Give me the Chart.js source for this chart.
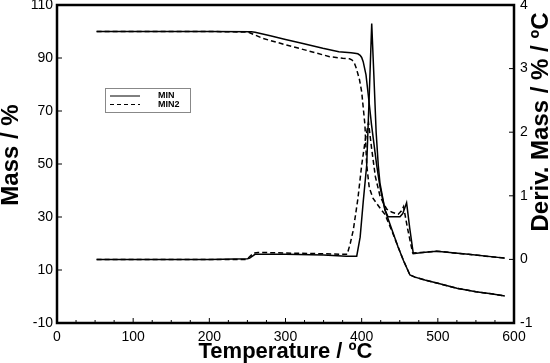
<!DOCTYPE html>
<html>
<head>
<meta charset="utf-8">
<script src="https://cdn.jsdelivr.net/npm/chart.js@4"></script>
<style>
  html, body { margin: 0; padding: 0; background: #fff; }
  canvas { display: block; }
</style>
</head>
<body>
<canvas id="tga" width="550" height="363"></canvas>
<script>
// ─── DATA ───
const seriesNames = ['MIN', 'MIN2'];

// MIN : mass (%) vs temperature (°C)
const minMassT = [52, 100, 150, 200, 255, 260, 280, 300, 320, 349, 370, 386, 391, 395, 398, 400, 402, 405.7, 408.7, 413, 419.7, 424, 430.6, 440, 447.7, 455, 463.4, 470, 483, 500, 525, 550, 570, 588];
const minMass  = [100, 100, 100, 100, 99.9, 99.7, 98.4, 97.0, 95.7, 93.7, 92.4, 92.0, 91.8, 91.6, 91.0, 90.2, 88.6, 83.6, 76, 64.7, 49.6, 41.5, 32.6, 25, 18.8, 13.5, 8.1, 7.3, 6.2, 5.0, 3.1, 1.8, 1.0, 0.2];

// MIN2 : mass (%)
const min2MassT = [52, 100, 150, 200, 251, 270, 300, 330, 358, 375, 384, 387, 390, 393, 397, 400, 404.3, 406.6, 410, 415, 420, 425, 430.6, 440, 447.7, 455, 463.4, 470, 483, 500, 525, 550, 570, 588];
const min2Mass  = [100, 100, 100, 100, 99.8, 97.4, 95.0, 92.7, 90.5, 89.9, 89.7, 89.3, 88.4, 86.1, 82, 77.3, 64.7, 49.6, 41, 37, 35, 33, 31, 24.5, 18.8, 13.5, 8.1, 7.3, 6.2, 5.0, 3.1, 1.8, 1.0, 0.2];

// MIN : derivative mass (%/°C)
const minDerivT = [52, 100, 150, 200, 250, 253, 260, 300, 350, 380, 393.5, 398, 402, 406.6, 410, 413.2, 416, 419, 421.8, 424, 430.6, 434.6, 450.3, 454, 459, 463, 467.8, 480, 498.5, 540, 588];
const minDeriv  = [0, 0, 0, 0, 0.01, 0.02, 0.08, 0.08, 0.07, 0.05, 0.05, 0.35, 0.9, 1.48, 2.6, 3.71, 2.9, 2.0, 1.48, 1.2, 0.78, 0.67, 0.67, 0.72, 0.89, 0.5, 0.09, 0.11, 0.13, 0.08, 0.02];

// MIN2 : derivative mass (%/°C)
const min2DerivT = [52, 100, 150, 200, 248, 251, 258, 264, 300, 345, 375, 381, 385, 389, 395, 400, 405, 409, 413, 418, 424, 430, 433, 440, 448, 452, 455, 460, 467, 480, 498, 540, 588];
const min2Deriv  = [0, 0, 0, 0, 0, 0.02, 0.1, 0.11, 0.1, 0.09, 0.08, 0.08, 0.25, 0.46, 0.95, 1.48, 1.9, 2.15, 1.75, 1.3, 1.0, 0.85, 0.79, 0.74, 0.71, 0.76, 0.83, 0.5, 0.1, 0.11, 0.13, 0.08, 0.02];

// axis ranges / ticks
const tempRange = [0, 600];
const massRange = [-10, 110];
const derivRange = [-1, 4];

const toPts = (xs, ys) => xs.map((x, i) => ({ x, y: ys[i] }));

const FONT = '"Liberation Sans", Arial, sans-serif';
const tickFont = { family: FONT, size: 14 };

const mkLine = (label, data, axis, dashed) => ({
  label,
  data,
  yAxisID: axis,
  showLine: true,
  borderColor: '#000',
  backgroundColor: '#000',
  borderWidth: 1.5,
  borderDash: dashed ? [5, 3] : [],
  pointRadius: 0,
  tension: 0,
  fill: false
});

// ─── frame, inner ticks, titles, legend ───
const decor = {
  id: 'decor',
  afterDatasetsDraw(chart) {
    const { ctx, chartArea: a, scales } = chart;
    ctx.save();
    ctx.strokeStyle = '#000';
    const seg = (x1, y1, x2, y2) => { ctx.beginPath(); ctx.moveTo(x1, y1); ctx.lineTo(x2, y2); ctx.stroke(); };

    ctx.lineWidth = 1;
    for (let v = tempRange[0]; v <= tempRange[1]; v += 25) {
      const px = scales.x.getPixelForValue(v);
      seg(px, a.bottom, px, a.bottom - (v % 100 === 0 ? 5 : 3));
    }
    for (let v = massRange[0]; v <= massRange[1]; v += 20) {
      const py = scales.y.getPixelForValue(v);
      seg(a.left, py, a.left + 5, py);
    }
    for (let v = derivRange[0]; v <= derivRange[1]; v += 1) {
      const py = scales.y1.getPixelForValue(v);
      seg(a.right, py, a.right - 5, py);
    }

    ctx.lineWidth = 2.5;
    ctx.strokeRect(a.left, a.top, a.right - a.left, a.bottom - a.top);
    ctx.restore();
  },
  afterDraw(chart) {
    const { ctx, chartArea: a } = chart;
    ctx.save();
    ctx.fillStyle = '#000';
    ctx.textAlign = 'center';
    ctx.textBaseline = 'middle';

    ctx.font = 'bold 22px ' + FONT;
    ctx.fillText('Temperature / ºC', (a.left + a.right) / 2, 352);

    ctx.font = 'bold 24px ' + FONT;
    ctx.save();
    ctx.translate(11, 155);
    ctx.rotate(-Math.PI / 2);
    ctx.fillText('Mass / %', 0, 0);
    ctx.restore();

    ctx.save();
    ctx.translate(541, 122);
    ctx.rotate(-Math.PI / 2);
    ctx.fillText('Deriv. Mass / % / ºC', 0, 0);
    ctx.restore();

    // legend box
    ctx.strokeStyle = '#888';
    ctx.lineWidth = 1;
    ctx.strokeRect(105.5, 88.5, 85, 24);
    ctx.strokeStyle = '#000';
    ctx.font = 'bold 9px ' + FONT;
    ctx.textAlign = 'left';
    seriesNames.forEach((name, i) => {
      const y = 96 + i * 8.5;
      ctx.setLineDash(i === 0 ? [] : [4, 3]);
      ctx.beginPath(); ctx.moveTo(110, y); ctx.lineTo(140, y); ctx.stroke();
      ctx.fillText(name, 158, y);
    });
    ctx.restore();
  }
};

new Chart(document.getElementById('tga'), {
  type: 'scatter',
  data: {
    datasets: [
      mkLine('MIN', toPts(minMassT, minMass), 'y', false),
      mkLine('MIN2', toPts(min2MassT, min2Mass), 'y', true),
      mkLine('MIN deriv', toPts(minDerivT, minDeriv), 'y1', false),
      mkLine('MIN2 deriv', toPts(min2DerivT, min2Deriv), 'y1', true)
    ]
  },
  options: {
    responsive: false,
    animation: false,
    layout: { padding: { top: 5 } },
    plugins: { legend: { display: false }, tooltip: { enabled: false } },
    scales: {
      x: {
        type: 'linear', min: tempRange[0], max: tempRange[1],
        ticks: { stepSize: 100, padding: 6, color: '#000', font: tickFont, maxRotation: 0 },
        grid: { display: false, drawTicks: false }, border: { display: false },
        afterFit: s => { s.height = 40; s.paddingLeft = 0; s.paddingRight = 0; }
      },
      y: {
        position: 'left', min: massRange[0], max: massRange[1],
        ticks: { stepSize: 20, padding: 4, color: '#000', font: tickFont },
        grid: { display: false, drawTicks: false }, border: { display: false },
        afterFit: s => { s.width = 57; s.paddingTop = 0; s.paddingBottom = 0; }
      },
      y1: {
        position: 'right', min: derivRange[0], max: derivRange[1],
        ticks: { stepSize: 1, padding: 6, color: '#000', font: tickFont },
        grid: { display: false, drawTicks: false }, border: { display: false },
        afterFit: s => { s.width = 36; s.paddingTop = 0; s.paddingBottom = 0; }
      }
    }
  },
  plugins: [decor]
});
</script>
</body>
</html>
